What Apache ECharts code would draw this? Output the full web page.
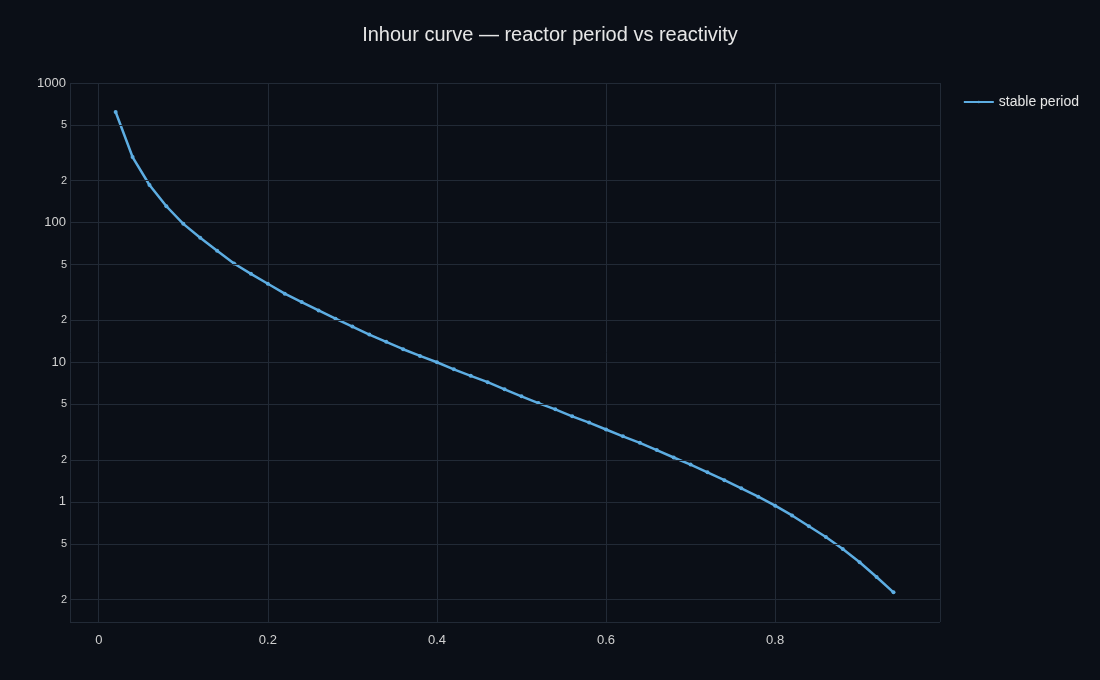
<!DOCTYPE html>
<html><head><meta charset="utf-8">
<script src="https://cdn.jsdelivr.net/npm/echarts@6/dist/echarts.min.js"></script>
<style>html,body{margin:0;background:#0b0f17}#c{width:1100px;height:680px}</style>
</head><body><div id="c"></div>
<script>
const reactivity = [0.02,0.04,0.06,0.08,0.10,0.12,0.14,0.16,0.18,0.20,0.22,0.24,0.26,0.28,0.30,0.32,0.34,0.36,0.38,0.40,0.42,0.44,0.46,0.48,0.50,0.52,0.54,0.56,0.58,0.60,0.62,0.64,0.66,0.68,0.70,0.72,0.74,0.76,0.78,0.80,0.82,0.84,0.86,0.88,0.90,0.92,0.94];
const period = [620,295,186,131,98,78,63,51,43,36.5,31,27,23.5,20.5,18,15.8,14,12.4,11.1,10,8.9,8.0,7.2,6.4,5.7,5.1,4.6,4.1,3.7,3.3,2.95,2.65,2.35,2.08,1.85,1.63,1.43,1.25,1.09,0.94,0.8,0.67,0.56,0.46,0.37,0.29,0.225];
const xTicks = [0,0.2,0.4,0.6,0.8];
const minorY = [500,200,50,20,5,2,0.5,0.2];
const minorLabels = ['5','2','5','2','5','2','5','2'];
const gridColor = '#222a36';
const font = 'Liberation Sans, Arial, sans-serif';
const chart = echarts.init(document.getElementById('c'));
chart.setOption({
  backgroundColor:'#0b0f17',
  title:{text:'Inhour curve — reactor period vs reactivity',left:'center',top:20,textStyle:{color:'#e6e6e6',fontSize:20,fontWeight:'normal',fontFamily:font}},
  legend:{right:16,top:90,orient:'vertical',textStyle:{color:'#e6e6e6',fontSize:14,fontFamily:font},itemWidth:30,itemHeight:3,data:['stable period']},
  grid:{left:70,right:160,top:83,bottom:58},
  xAxis:{type:'value',min:-0.034,max:0.995,
    axisLine:{show:false},axisTick:{show:false},
    axisLabel:{customValues:xTicks,color:'#d0d0d0',fontSize:13,margin:12,fontFamily:font},
    splitLine:{show:true,lineStyle:{color:gridColor}}},
  yAxis:{type:'log',logBase:10,min:0.138,max:1000,
    axisLine:{show:false},axisTick:{show:false},
    axisLabel:{color:'#d0d0d0',fontSize:13,showMinLabel:false,margin:4,fontFamily:font,formatter:v=>v>=1?String(Math.round(v)):''},
    splitLine:{show:true,lineStyle:{color:gridColor}}},
  series:[{name:'stable period',type:'line',data:reactivity.map((x,i)=>[x,period[i]]),
    smooth:false,symbol:'circle',symbolSize:4,showSymbol:true,
    lineStyle:{color:'#5dade2',width:2.5},itemStyle:{color:'#5dade2'},
    markLine:{silent:true,symbol:'none',animation:false,
      lineStyle:{color:gridColor,type:'solid',width:1},
      label:{position:'start',color:'#d0d0d0',fontSize:11,fontFamily:font,distance:[3,0],formatter:p=>minorLabels[minorY.indexOf(p.value)]},
      data:minorY.map(v=>({yAxis:v}))}}]
});
</script></body></html>
